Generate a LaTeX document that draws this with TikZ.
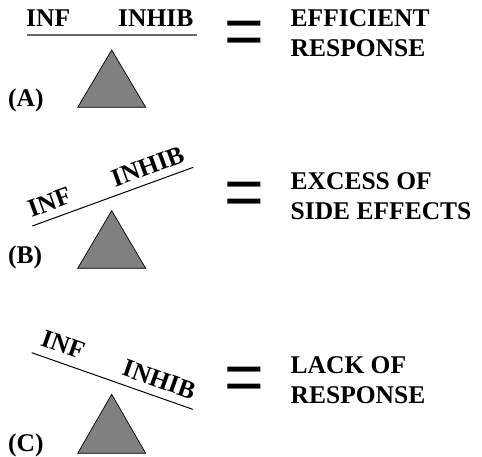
\documentclass[tikz,border=0pt]{standalone}
\usepackage{fontspec}
\setmainfont{Liberation Serif}
\newfontfamily\eqfont{Liberation Sans}
\begin{document}
\begin{tikzpicture}[x=1pt,y=-1pt,
  lbl/.style={font=\fontsize{25.5}{30}\selectfont\bfseries, inner sep=0pt, anchor=base west},
  lble/.style={font=\fontsize{25.5}{30}\selectfont\bfseries, inner sep=0pt, anchor=base east},
  eqsign/.style={font=\eqfont\fontsize{68}{68}\selectfont, inner sep=0pt, anchor=center},
  tri/.style={draw=black, line width=0.7pt, fill={rgb,255:red,128;green,128;blue,128}, line join=miter},
  beam/.style={draw=black, line width=1pt},
  flatbeam/.style={draw={rgb,255:red,105;green,105;blue,105}, line width=1.8pt}
]
\useasboundingbox (0,0) rectangle (482,456);

% ---------- (A) ----------
\coordinate (a1) at (26.5,35);
\coordinate (a2) at (197,35);
\draw[flatbeam] (a1) -- (a2);
\node[lbl] (ainf) at (26,26) {INF};
\node[lble] (ainh) at (193.5,26) {INHIB};
\draw[tri] (111.7,50) -- (145.7,107.3) -- (77.7,107.3) -- cycle;
\node[lbl] (alab) at (8,106) {(A)};
\node[eqsign] (aeq) at (244.7,38) {=};
\node[lbl] (at1) at (290.5,26.7) {EFFICIENT};
\node[lbl] (at2) at (290.5,56.7) {RESPONSE};

% ---------- (B) ----------
\coordinate (b1) at (32.3,226);
\coordinate (b2) at (193.3,167.3);
\draw[beam] (b1) -- (b2);
\node[lbl, rotate=20] (binf) at (31.5,217.5) {INF};
\node[lble, rotate=20] (binh) at (186,161.5) {INHIB};
\draw[tri] (111.7,210.7) -- (145.7,268.3) -- (77.7,268.3) -- cycle;
\node[lbl] (blab) at (8,263) {(B)};
\node[eqsign] (beq) at (244.7,199) {=};
\node[lbl] (bt1) at (290.5,189.5) {EXCESS OF};
\node[lbl] (bt2) at (290.5,219.5) {SIDE EFFECTS};

% ---------- (C) ----------
\coordinate (c1) at (31.7,352.7);
\coordinate (c2) at (192.7,409.3);
\draw[beam] (c1) -- (c2);
\node[lbl, rotate=-19.4] (cinf) at (39.4,345.5) {INF};
\node[lble, rotate=-19.4] (cinh) at (192,400) {INHIB};
\draw[tri] (111.7,394.3) -- (145.7,453.3) -- (77.7,453.3) -- cycle;
\node[lbl] (clab) at (8,451.5) {(C)};
\node[eqsign] (ceq) at (244.7,384) {=};
\node[lbl] (ct1) at (290.5,373.3) {LACK OF};
\node[lbl] (ct2) at (290.5,403.3) {RESPONSE};
\end{tikzpicture}
\end{document}
